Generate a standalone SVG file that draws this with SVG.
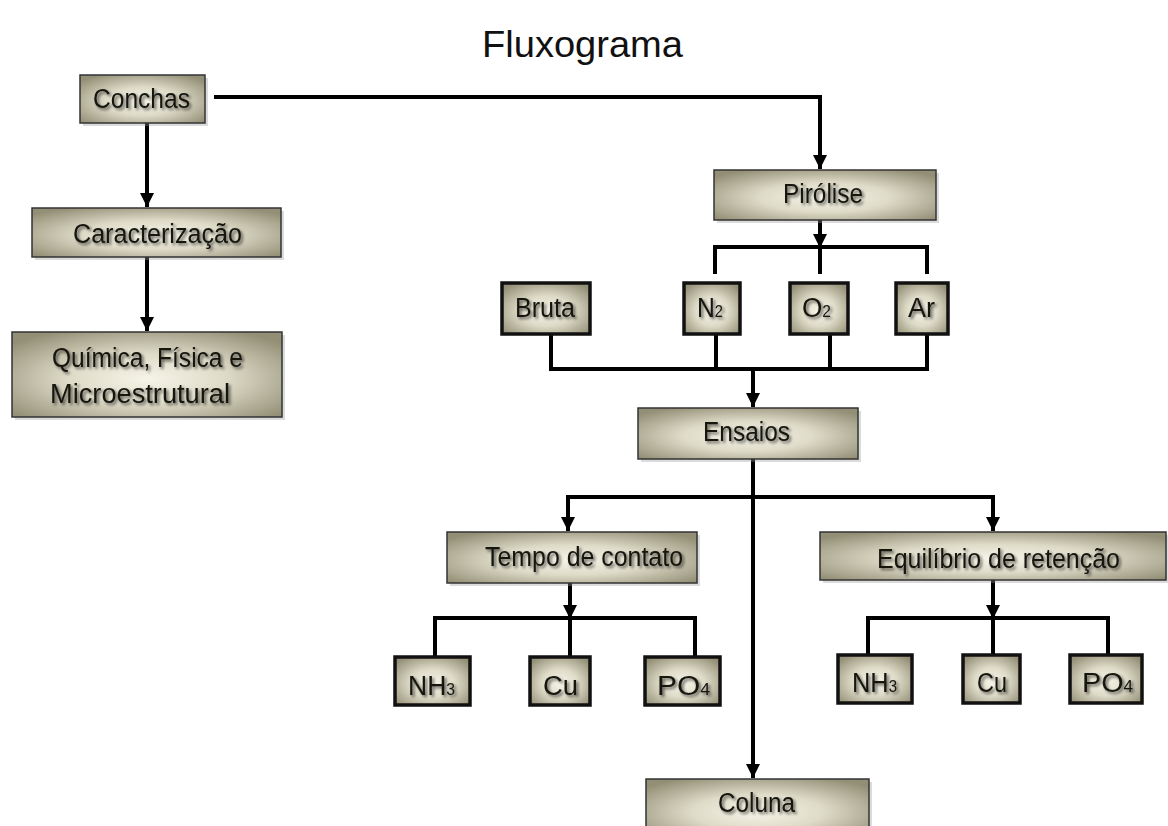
<svg xmlns="http://www.w3.org/2000/svg" width="1168" height="826" viewBox="0 0 1168 826">
<style>
.box{fill:url(#g);stroke:#333;stroke-width:1.5}
.sbox{fill:url(#g);stroke:#111;stroke-width:3.5}
.sh{fill:#999;opacity:.35}
.t{font-family:"Liberation Sans",Arial,sans-serif;font-size:27px;fill:#151510;filter:url(#ts)}
.sub{font-size:16px}
.title{font-family:"Liberation Sans",Arial,sans-serif;font-size:37px;fill:#111}
.c{fill:none;stroke:#000;stroke-width:4;stroke-linejoin:miter}
.ca{fill:none;stroke:#000;stroke-width:4;marker-end:url(#ah)}
</style>
<defs>
<radialGradient id="g" cx="50%" cy="55%" r="65%">
<stop offset="0" stop-color="#f6f4e8"/>
<stop offset="0.45" stop-color="#dedbc8"/>
<stop offset="1" stop-color="#938f76"/>
</radialGradient>
<filter id="ts" x="-10%" y="-30%" width="130%" height="170%">
<feGaussianBlur in="SourceAlpha" stdDeviation="1.8" result="b"/>
<feOffset in="b" dx="2" dy="2" result="o"/>
<feComponentTransfer in="o" result="o2"><feFuncA type="linear" slope="0.6"/></feComponentTransfer>
<feMerge><feMergeNode in="o2"/><feMergeNode in="SourceGraphic"/></feMerge>
</filter>
<marker id="ah" viewBox="0 0 10 10" refX="10" refY="5" markerUnits="userSpaceOnUse" markerWidth="14" markerHeight="14" orient="auto">
<path d="M0,0 L10,5 L0,10 z" fill="#000"/>
</marker>
</defs>
<rect width="1168" height="826" fill="#fff"/>
<text class="title" x="482" y="57" textLength="201" lengthAdjust="spacingAndGlyphs">Fluxograma</text>

<g id="connectors">
<line class="ca" x1="147" y1="123" x2="147" y2="207"/>
<line class="ca" x1="147" y1="257" x2="147" y2="331"/>
<path class="ca" d="M214,97 H820 V169"/>
<line class="ca" x1="820" y1="220" x2="820" y2="248"/>
<path class="c" d="M715,274 V247 H927 V274 M820,247 V274"/>
<path class="c" d="M551,334 V369 H927 V334 M716,334 V369 M830,334 V369"/>
<line class="ca" x1="753" y1="369" x2="753" y2="407"/>
<line class="ca" x1="753" y1="459" x2="753" y2="778"/>
<path class="ca" d="M753,497 H568 V531"/>
<path class="ca" d="M753,497 H993 V531"/>
<line class="ca" x1="570" y1="583" x2="570" y2="619"/>
<path class="c" d="M435,657 V618 H695 V657 M570,618 V657"/>
<line class="ca" x1="993" y1="580" x2="993" y2="619"/>
<path class="c" d="M868,655 V618 H1108 V655 M993,618 V655"/>
</g>

<g id="n-conchas"><rect class="sh" x="83" y="78" width="125" height="48"/><rect class="box" x="80" y="75" width="125" height="48"/><text class="t" x="93" y="108" textLength="97" lengthAdjust="spacingAndGlyphs">Conchas</text></g>
<g id="n-caracterizacao"><rect class="sh" x="35" y="211" width="249" height="49"/><rect class="box" x="32" y="208" width="249" height="49"/><text class="t" x="73" y="243" textLength="169" lengthAdjust="spacingAndGlyphs">Caracterização</text></g>
<g id="n-quimica"><rect class="sh" x="15" y="335" width="270" height="85"/><rect class="box" x="12" y="332" width="270" height="85"/><text class="t" x="52" y="367" textLength="191" lengthAdjust="spacingAndGlyphs">Química, Física e</text><text class="t" x="50" y="403" textLength="180" lengthAdjust="spacingAndGlyphs">Microestrutural</text></g>
<g id="n-pirolise"><rect class="sh" x="717" y="173" width="222" height="50"/><rect class="box" x="714" y="170" width="222" height="50"/><text class="t" x="783" y="203" textLength="80" lengthAdjust="spacingAndGlyphs">Pirólise</text></g>
<g id="n-bruta"><rect class="sbox" x="502" y="283" width="88" height="51"/><text class="t" x="515" y="317" textLength="60" lengthAdjust="spacingAndGlyphs">Bruta</text></g>
<g id="n-n2"><rect class="sbox" x="684" y="283" width="56" height="51"/><text class="t" x="697" y="317" textLength="26" lengthAdjust="spacingAndGlyphs">N<tspan class="sub">2</tspan></text></g>
<g id="n-o2"><rect class="sbox" x="790" y="283" width="58" height="51"/><text class="t" x="802" y="317" textLength="29" lengthAdjust="spacingAndGlyphs">O<tspan class="sub">2</tspan></text></g>
<g id="n-ar"><rect class="sbox" x="896" y="283" width="52" height="51"/><text class="t" x="908" y="317" textLength="27" lengthAdjust="spacingAndGlyphs">Ar</text></g>
<g id="n-ensaios"><rect class="sh" x="641" y="411" width="220" height="51"/><rect class="box" x="638" y="408" width="220" height="51"/><text class="t" x="703" y="441" textLength="87" lengthAdjust="spacingAndGlyphs">Ensaios</text></g>
<g id="n-tempo"><rect class="sh" x="450" y="535" width="250" height="51"/><rect class="box" x="447" y="532" width="250" height="51"/><text class="t" x="485" y="566" textLength="198" lengthAdjust="spacingAndGlyphs">Tempo de contato</text></g>
<g id="n-equilibrio"><rect class="sh" x="823" y="535" width="346" height="48"/><rect class="box" x="820" y="532" width="346" height="48"/><text class="t" x="877" y="568" textLength="243" lengthAdjust="spacingAndGlyphs">Equilíbrio de retenção</text></g>
<g id="n-nh3-a"><rect class="sbox" x="395" y="657" width="75" height="48"/><text class="t" x="408" y="695" textLength="47" lengthAdjust="spacingAndGlyphs">NH<tspan class="sub">3</tspan></text></g>
<g id="n-cu-a"><rect class="sbox" x="530" y="657" width="60" height="48"/><text class="t" x="543" y="695" textLength="35" lengthAdjust="spacingAndGlyphs">Cu</text></g>
<g id="n-po4-a"><rect class="sbox" x="645" y="657" width="75" height="48"/><text class="t" x="657" y="695" textLength="53" lengthAdjust="spacingAndGlyphs">PO<tspan class="sub">4</tspan></text></g>
<g id="n-nh3-b"><rect class="sbox" x="838" y="655" width="74" height="48"/><text class="t" x="852" y="692" textLength="45" lengthAdjust="spacingAndGlyphs">NH<tspan class="sub">3</tspan></text></g>
<g id="n-cu-b"><rect class="sbox" x="963" y="655" width="57" height="48"/><text class="t" x="977" y="692" textLength="30" lengthAdjust="spacingAndGlyphs">Cu</text></g>
<g id="n-po4-b"><rect class="sbox" x="1070" y="655" width="72" height="48"/><text class="t" x="1082" y="692" textLength="51" lengthAdjust="spacingAndGlyphs">PO<tspan class="sub">4</tspan></text></g>
<g id="n-coluna"><rect class="sh" x="649" y="782" width="223" height="60"/><rect class="box" x="646" y="779" width="223" height="60"/><text class="t" x="718" y="812" textLength="77" lengthAdjust="spacingAndGlyphs">Coluna</text></g>
</svg>
